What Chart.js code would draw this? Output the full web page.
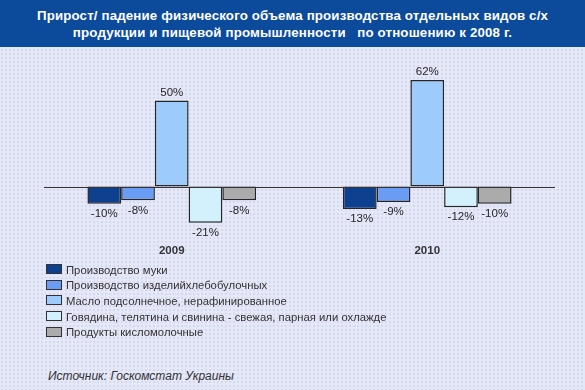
<!DOCTYPE html>
<html>
<head>
<meta charset="utf-8">
<script src="https://cdn.jsdelivr.net/npm/chart.js@4"></script>
<style>
  html, body { margin: 0; padding: 0; }
  body {
    width: 585px; height: 390px; position: relative; overflow: hidden;
    background-color: #E1EAF9;
    background-image: radial-gradient(rgba(235, 150, 200, 0.45) 0.6px, transparent 0.9px);
    background-size: 4px 4px;
    font-family: "Liberation Sans", Arial, sans-serif;
  }
  #header {
    position: absolute; left: 0; top: 0; width: 585px; height: 47px;
    background: #0C4A9C; color: #fff; font-weight: bold; font-size: 13.3px; letter-spacing: 0.15px;
    text-align: center; line-height: 17px; padding-top: 7px; box-sizing: border-box;
  }
  #chartBox { position: absolute; left: 0; top: 46px; line-height: 0; }
  #legend { position: absolute; left: 46px; top: 262px; font-size: 11.3px; color: #333; }
  #legend div { height: 15.6px; display: flex; align-items: center; }
  #legend span.box {
    display: inline-block; width: 14px; height: 8px; border: 1px solid #333;
    margin-right: 4px; margin-top: -1px;
  }
  #source {
    position: absolute; left: 48px; top: 369px; font-size: 12px; font-style: italic; color: #333;
  }
</style>
</head>
<body>
<div id="header">Прирост/ падение физического объема производства отдельных видов с/х<br>продукции и пищевой промышленности&nbsp;&nbsp; по отношению к 2008 г.</div>
<div id="chartBox"><canvas id="myChart" width="585" height="218"></canvas></div>
<div id="legend"></div>
<div id="source">Источник: Госкомстат Украины</div>
<script>
// data
var years = ['2009', '2010'];
var seriesNames = [
    'Производство муки',
    'Производство изделийхлебобулочных',
    'Масло подсолнечное, нерафинированное',
    'Говядина, телятина и свинина - свежая, парная или охлажде',
    'Продукты кисломолочные'
];
var flour = [-10, -13];
var bread = [-8, -9];
var sunflowerOil = [50, 62];
var meat = [-21, -12];
var sourMilk = [-8, -10];
var colors = ['#0D4190', '#6A9BF5', '#9CCBFC', '#D3F0FD', '#ABABAB'];

var seriesData = [flour, bread, sunflowerOil, meat, sourMilk];

var datasets = seriesData.map(function (d, i) {
    return {
        label: seriesNames[i],
        data: d,
        backgroundColor: colors[i],
        borderColor: '#262626',
        borderWidth: 1.5,
        borderSkipped: false,
        categoryPercentage: 0.66,
        barPercentage: 1.0
    };
});

// zero line + value labels
var valueLabels = {
    id: 'valueLabels',
    afterDatasetsDraw: function (chart) {
        var ctx = chart.ctx;
        var area = chart.chartArea;
        var y0 = chart.scales.y.getPixelForValue(0);
        ctx.save();
        ctx.strokeStyle = '#333';
        ctx.lineWidth = 1;
        ctx.beginPath();
        ctx.moveTo(area.left, Math.round(y0) + 0.5);
        ctx.lineTo(area.right, Math.round(y0) + 0.5);
        ctx.stroke();

        ctx.font = '11.5px "Liberation Sans", Arial, sans-serif';
        ctx.fillStyle = '#262626';
        ctx.textAlign = 'center';
        ctx.textBaseline = 'middle';
        chart.data.datasets.forEach(function (ds, i) {
            chart.getDatasetMeta(i).data.forEach(function (bar, j) {
                var v = ds.data[j];
                var y = v >= 0 ? bar.y - 8 : bar.y + 10;
                ctx.fillText(v + '%', bar.x, y);
            });
        });
        ctx.restore();
    }
};

var myChart = new Chart(document.getElementById('myChart'), {
    type: 'bar',
    data: { labels: years, datasets: datasets },
    options: {
        responsive: false,
        animation: false,
        layout: { padding: { left: 44, right: 30, top: 3, bottom: 0 } },
        plugins: { legend: { display: false }, tooltip: { enabled: false } },
        scales: {
            x: {
                grid: { display: false, drawTicks: false },
                border: { display: false },
                ticks: {
                    color: '#333',
                    padding: 6,
                    font: { family: '"Liberation Sans", Arial, sans-serif', size: 11.5, weight: 'bold' }
                }
            },
            y: { display: false, min: -30, max: 80 }
        }
    },
    plugins: [valueLabels]
});

// legend
var legend = document.getElementById('legend');
seriesNames.forEach(function (name, i) {
    var row = document.createElement('div');
    row.innerHTML = '<span class="box" style="background:' + colors[i] + '"></span>' + name;
    legend.appendChild(row);
});
</script>
</body>
</html>
